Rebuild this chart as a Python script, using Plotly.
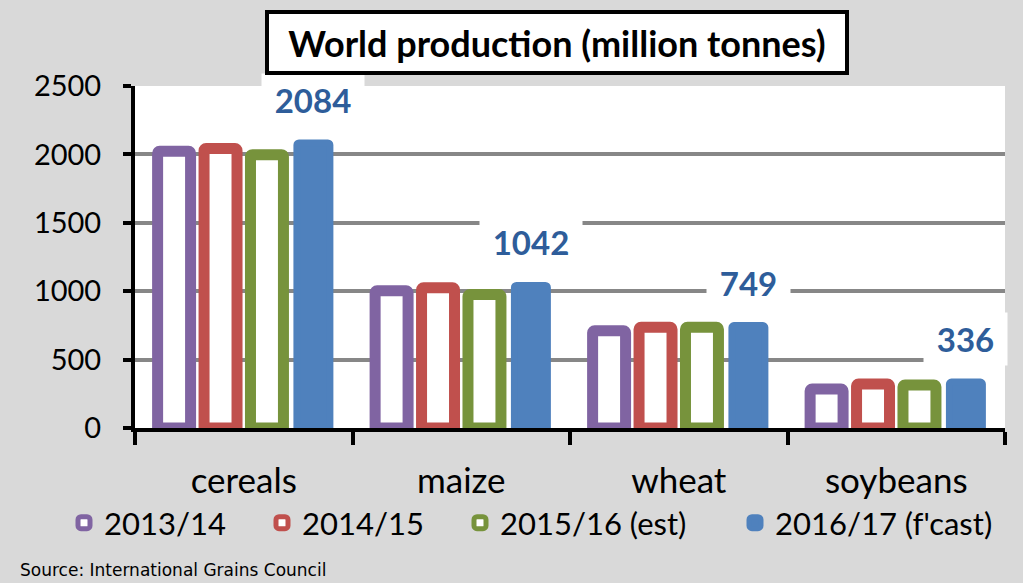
import plotly.graph_objects as go

categories = ["cereals", "maize", "wheat", "soybeans"]
series_names = ["2013/14", "2014/15", "2015/16 (est)", "2016/17 (f'cast)"]
v_2013 = [2023, 1003, 710, 285]
v_2014 = [2043, 1025, 737, 322]
v_2015 = [1998, 975, 737, 314]
v_2016 = [2084, 1042, 749, 336]
labels_2016 = ["2084", "1042", "749", "336"]
title_text = "World production (million tonnes)"
source_text = "Source: International Grains Council"

colors = ["#8064A2", "#C0504D", "#77933C", "#4F81BD"]
legend_px = [64, 262, 460, 998]
legend_anchor = ["left", "left", "left", "right"]
FONT = "Lato"
BARGAP = 0.146
GROUPGAP = 0.29
L, R, T, B = 135, 18, 86, 154.5
W, H = 1023, 583
PW, PH = W - L - R, H - T - B

fig = go.Figure()
all_vals = [v_2013, v_2014, v_2015, v_2016]
legend_ids = ["legend", "legend2", "legend3", "legend4"]
for i, (name, vals) in enumerate(zip(series_names, all_vals)):
    filled = i == 3
    fig.add_trace(go.Bar(
        name=name,
        x=categories,
        y=vals,
        legend=legend_ids[i],
        marker=dict(
            color=colors[i] if filled else "white",
            line=dict(color=colors[i], width=7 if filled else 11),
            cornerradius=2,
        ),
    ))

slot = (1 - BARGAP) / 4
annotations = []
for idx, (val, lab) in enumerate(zip(v_2016, labels_2016)):
    annotations.append(dict(
        x=idx + 1.5 * slot, y=val, xref="x", yref="y",
        text=f"<b>{lab}</b>", showarrow=False, yshift=43,
        font=dict(family=FONT, size=33, color="#2E5D9A"),
        bgcolor="white", borderpad=6, width=len(lab) * 19 + 14,
    ))

annotations.append(dict(
    x=(557 - L) / PW, y=(H - B - 42) / PH, xref="paper", yref="paper",
    xanchor="center", yanchor="middle",
    text=f"<b>{title_text}</b>", showarrow=False,
    font=dict(family=FONT, size=36, color="black"),
    bgcolor="white", bordercolor="black", borderwidth=4, borderpad=6,
    width=564, height=45,
))
annotations.append(dict(
    x=(18 - L) / PW, y=-(571 - (H - B)) / PH, xref="paper", yref="paper",
    xanchor="left", yanchor="middle",
    text=source_text, showarrow=False,
    font=dict(family="DejaVu Sans", size=17, color="black"),
))

legend_common = dict(
    orientation="h",
    xref="container", yref="container",
    y=1 - 523 / H, yanchor="middle",
    font=dict(family=FONT, size=31, color="black"),
    bgcolor="rgba(0,0,0,0)", itemwidth=30,
)
legend_layout = {}
for lid, lx, la in zip(legend_ids, legend_px, legend_anchor):
    legend_layout[lid] = dict(legend_common, x=lx / W, xanchor=la)

fig.update_layout(
    width=W, height=H,
    margin=dict(l=L, r=R, t=T, b=B, autoexpand=False),
    paper_bgcolor="#D9D9D9",
    plot_bgcolor="white",
    barmode="group",
    bargap=BARGAP,
    bargroupgap=GROUPGAP,
    font=dict(family=FONT, size=29, color="black"),
    showlegend=True,
    annotations=annotations,
    **legend_layout,
)
fig.update_xaxes(
    range=[-0.5, len(categories) - 0.5],
    showline=True, linecolor="black", linewidth=4,
    ticks="outside", tickson="boundaries", ticklen=13, tickwidth=4, tickcolor="black",
    tickfont=dict(family=FONT, size=35, color="black"),
    ticklabelstandoff=19,
    showgrid=False, zeroline=False,
)
fig.update_yaxes(
    range=[0, 2500], dtick=500, tick0=0,
    showline=True, linecolor="black", linewidth=4,
    ticks="outside", ticklen=8, tickwidth=4, tickcolor="black",
    tickfont=dict(family=FONT, size=29, color="black"),
    ticklabelstandoff=16,
    showgrid=True, gridcolor="#878787", gridwidth=4,
    zeroline=False,
)

fig.write_html(
    "out.html",
    config={"displayModeBar": False},
    post_script="document.body.style.margin='0';document.body.style.overflow='hidden';",
)
